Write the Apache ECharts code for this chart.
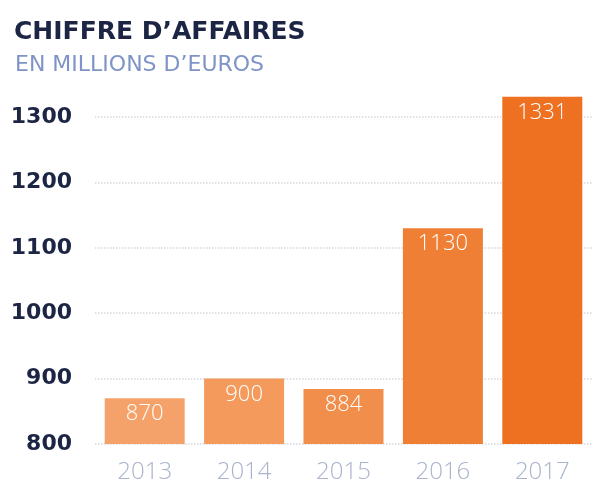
<!DOCTYPE html>
<html>
<head>
<meta charset="utf-8">
<script src="https://cdn.jsdelivr.net/npm/echarts@6/dist/echarts.min.js"></script>
<style>
html,body{margin:0;padding:0;background:#fff;}
#c{width:592px;height:486px;}
</style>
</head>
<body>
<div id="c"></div>
<script>
var categories = ['2013', '2014', '2015', '2016', '2017'];
var values = [870, 900, 884, 1130, 1331];
var barColors = ['#f5a26a', '#f39a5c', '#f28e4c', '#f07f36', '#ee7021'];
var yTicks = [800, 900, 1000, 1100, 1200, 1300];

var chart = echarts.init(document.getElementById('c'));
chart.setOption({
  animation: false,
  backgroundColor: '#ffffff',
  title: [
    {text: 'CHIFFRE D\u2019AFFAIRES', left: 9, top: 15,
     textStyle: {fontFamily: 'DejaVu Sans', fontWeight: 'bold', fontSize: 25, color: '#1c2544'}},
    {text: 'EN MILLIONS D\u2019EUROS', left: 10, top: 49,
     textStyle: {fontFamily: 'DejaVu Sans', fontWeight: 'normal', fontSize: 22, color: '#7f94c6'}}
  ],
  grid: {left: 95, right: -5, top: 51.6, bottom: 42, containLabel: false},
  xAxis: {
    type: 'category', data: categories,
    axisLine: {show: false}, axisTick: {show: false},
    axisLabel: {margin: 16, fontFamily: 'Open Sans', fontWeight: 300, fontSize: 24, color: '#a9b3cb'}
  },
  yAxis: {
    type: 'value', min: yTicks[0], max: 1400, interval: 100,
    axisLine: {show: false}, axisTick: {show: false},
    axisLabel: {margin: 23, showMaxLabel: false, fontFamily: 'DejaVu Sans', fontWeight: 'bold', fontSize: 22, color: '#1c2544',
                formatter: function (v) { return String(v); }},
    splitLine: {show: true, showMaxLine: false, lineStyle: {color: '#d6d8de', type: 'dotted', width: 1.5}}
  },
  series: [{
    type: 'bar', barWidth: 80,
    data: values.map(function (v, i) { return {value: v, itemStyle: {color: barColors[i]}}; }),
    label: {show: true, position: 'insideTop', distance: 5, color: '#ffffff',
            fontFamily: 'Open Sans', fontWeight: 300, fontSize: 22}
  }]
});
</script>
</body>
</html>
